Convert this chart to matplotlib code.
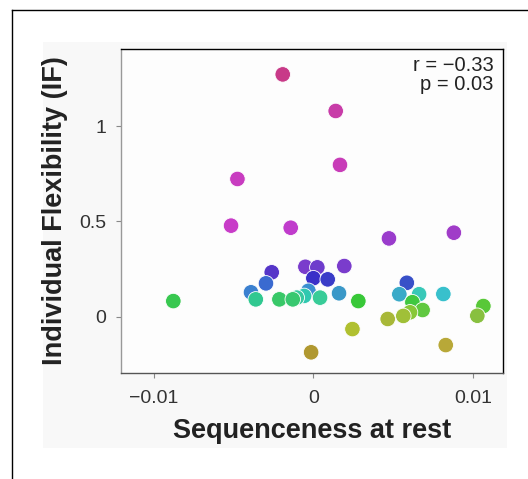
import matplotlib
matplotlib.use("Agg")
import matplotlib.pyplot as plt
from matplotlib.lines import Line2D
from matplotlib.patches import Rectangle

plt.rcParams['font.family'] = ['Liberation Sans', 'DejaVu Sans']

# sequenceness at rest (x) and individual flexibility (y), one entry per subject
seq = [-0.00192, 0.00140, 0.00167, -0.00476, -0.00516, -0.00142, 0.00474, 0.00881,
       -0.00050, 0.00025, 0.00194, -0.00261, -0.00297, 0.00000, 0.00090, 0.00586,
       -0.00391, -0.00361, -0.00213, -0.00129, -0.00104, -0.00058, -0.00031, 0.00042,
       0.00161, 0.00282, 0.00539, 0.00663, 0.00815, 0.00621, 0.00685, 0.00606,
       0.00564, 0.00466, 0.01066, 0.01028, 0.00830, -0.00878, 0.00245, -0.00014]
flex = [1.272, 1.080, 0.797, 0.723, 0.478, 0.467, 0.411, 0.441,
        0.262, 0.259, 0.266, 0.233, 0.175, 0.202, 0.196, 0.178,
        0.128, 0.091, 0.091, 0.091, 0.100, 0.109, 0.136, 0.100,
        0.123, 0.082, 0.118, 0.118, 0.119, 0.076, 0.035, 0.023,
        0.004, -0.012, 0.056, 0.005, -0.149, 0.082, -0.065, -0.187]
colors = ['#c83a88', '#c83ca8', '#c83cb8', '#c83cc0', '#c83cc8', '#c03ccc', '#9a3ccc', '#a03cc8',
          '#7a3ccc', '#6e3ccc', '#7a3ccc', '#5535c8', '#3a6ad0', '#3a30c8', '#3a3cc8', '#3850c8',
          '#3a80d0', '#30c890', '#38c868', '#38c870', '#38c8a0', '#30c8b0', '#3a90d0', '#38cc98',
          '#3a98c8', '#38c838', '#3aaac8', '#38c8b8', '#38c0cc', '#40c840', '#60c840', '#88c838',
          '#a0c038', '#a8b838', '#58c838', '#88c040', '#b8a838', '#38c850', '#b0c030', '#b09830']

xticks = [-0.01, 0, 0.01]
xticklabels = ['\u22120.01', '0', '0.01']
yticks = [0, 0.5, 1]
yticklabels = ['0', '0.5', '1']
stats_text = 'r = \u22120.33\np = 0.03'

fig = plt.figure(figsize=(5.28, 4.79), dpi=100)

# light grey panel behind the plot and the black frame of the page
fig.patches.append(Rectangle((43 / 528, 1 - 448 / 479), 464 / 528, 406 / 479,
                             transform=fig.transFigure, facecolor='#f8f8f8',
                             edgecolor='none', zorder=-2))
fig.lines.append(Line2D([12 / 528, 12 / 528], [0, 1 - 9.7 / 479],
                        transform=fig.transFigure, color='black', lw=1.0))
fig.lines.append(Line2D([12 / 528, 1], [1 - 9.7 / 479, 1 - 9.7 / 479],
                        transform=fig.transFigure, color='black', lw=1.0))

ax = fig.add_axes([121 / 528, 1 - 372.5 / 479, 382 / 528, 324 / 479])
ax.set_facecolor('#fdfdfd')

# lower points are drawn on top of higher ones
order = sorted(range(len(flex)), key=lambda i: -flex[i])
ax.scatter([seq[i] for i in order], [flex[i] for i in order],
           c=[colors[i] for i in order], s=125, edgecolors='white', linewidths=0.6, zorder=3)

ax.set_xlim(-0.01206, 0.01189)
ax.set_ylim(-0.293, 1.408)
ax.set_xticks(xticks)
ax.set_xticklabels(xticklabels)
ax.set_yticks(yticks)
ax.set_yticklabels(yticklabels)
ax.tick_params(axis='both', direction='out', length=3.5, width=0.8, color='#888888',
               labelsize=14, labelcolor='#333333')
ax.tick_params(axis='x', pad=9)
ax.tick_params(axis='y', pad=7)

ax.spines['left'].set_color('#999999')
ax.spines['bottom'].set_color('#555555')
ax.spines['top'].set_color('black')
ax.spines['right'].set_color('black')
for sp in ax.spines.values():
    sp.set_linewidth(1.0)

ax.set_xlabel('Sequenceness at rest', fontsize=19.5, fontweight='bold', color='#222222', labelpad=8)
ax.set_ylabel('Individual Flexibility (IF)', fontsize=19.5, fontweight='bold', color='#222222',
              labelpad=8)

ax.text(0.975, 0.978, stats_text, transform=ax.transAxes, ha='right', va='top',
        fontsize=14.5, color='#222222', linespacing=1.05)

fig.savefig('out.png', dpi=100)
